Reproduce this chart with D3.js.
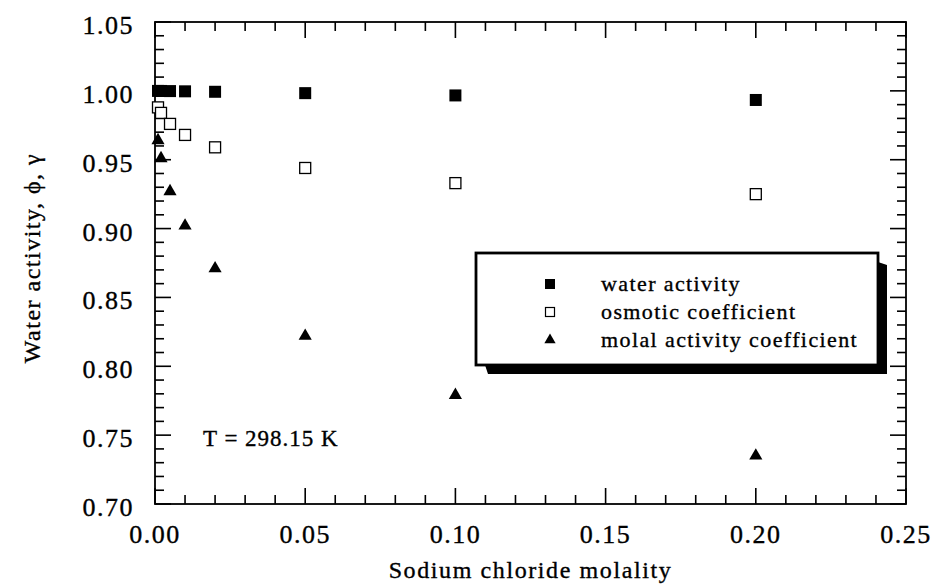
<!DOCTYPE html>
<html>
<head>
<meta charset="utf-8">
<script src="https://cdnjs.cloudflare.com/ajax/libs/d3/7.8.5/d3.min.js"></script>
<style>
  body { margin: 0; background: #fff; }
  svg { font-family: "Liberation Serif", "Times New Roman", serif; }
  text { fill: #000; stroke: #000; stroke-width: 0.35px; }
</style>
</head>
<body>
<svg id="graph" width="935" height="585"></svg>
<script>
// NaCl solutions at 298.15 K
var molality      = [0.001, 0.002, 0.005, 0.01, 0.02, 0.05, 0.1, 0.2];
var waterActivity = [0.99996, 0.99993, 0.99983, 0.99966, 0.99933, 0.99834, 0.99668, 0.99338];
var osmoticCoef   = [0.988, 0.984, 0.976, 0.968, 0.959, 0.944, 0.933, 0.925];
var activityCoef  = [0.964, 0.951, 0.927, 0.902, 0.871, 0.822, 0.779, 0.735];

var xTicks = [0, 0.05, 0.10, 0.15, 0.20, 0.25];
var yTicks = [0.70, 0.75, 0.80, 0.85, 0.90, 0.95, 1.00, 1.05];
var seriesNames = ["water activity", "osmotic coefficient", "molal activity coefficient"];

// note: "top" is reserved on window, so plot edges get a p prefix
var svg = d3.select("svg"),
    pLeft = 155, pRight = 906, pTop = 22, pBottom = 504;

var x = d3.scaleLinear().domain([0, 0.25]).range([pLeft, pRight]);
var y = d3.scaleLinear().domain([0.70, 1.05]).range([pBottom, pTop]);

var fmt = d3.format(".2f");

// inward ticks on all four sides, minor every 0.01 (drawn as thin rects)
var xMinor = d3.range(0, 26).map(function(i) { return i / 100; });
var yMinor = d3.range(70, 106).map(function(i) { return i / 100; });
function isMajor(v) { return Math.abs(v * 20 - Math.round(v * 20)) < 1e-6; }
function tlen(v) { return isMajor(v) ? 16 : 9; }

var tk = svg.append("g").attr("fill", "#000");
tk.selectAll("rect.xb").data(xMinor).enter().append("rect").attr("class", "xb")
  .attr("x", function(d) { return x(d) - 0.8; }).attr("width", 1.6)
  .attr("y", function(d) { return pBottom - tlen(d); }).attr("height", tlen);
tk.selectAll("rect.xt").data(xMinor).enter().append("rect").attr("class", "xt")
  .attr("x", function(d) { return x(d) - 0.8; }).attr("width", 1.6)
  .attr("y", pTop).attr("height", tlen);
tk.selectAll("rect.yl").data(yMinor).enter().append("rect").attr("class", "yl")
  .attr("y", function(d) { return y(d) - 0.8; }).attr("height", 1.6)
  .attr("x", pLeft).attr("width", tlen);
tk.selectAll("rect.yr").data(yMinor).enter().append("rect").attr("class", "yr")
  .attr("y", function(d) { return y(d) - 0.8; }).attr("height", 1.6)
  .attr("x", function(d) { return pRight - tlen(d); }).attr("width", tlen);

// frame
svg.append("rect")
  .attr("x", pLeft).attr("y", pTop)
  .attr("width", pRight - pLeft).attr("height", pBottom - pTop)
  .attr("fill", "none").attr("stroke", "#000").attr("stroke-width", 1.8);

// tick labels
svg.append("g").selectAll("text")
  .data(xTicks).enter().append("text")
  .attr("x", function(d) { return x(d); })
  .attr("y", 543)
  .attr("text-anchor", "middle")
  .style("font-size", "26px").style("letter-spacing", "1.5px")
  .text(function(d) { return fmt(d); });

svg.append("g").selectAll("text")
  .data(yTicks).enter().append("text")
  .attr("x", 134)
  .attr("y", function(d) { return y(d) + 12; })
  .attr("text-anchor", "end")
  .style("font-size", "26px").style("letter-spacing", "1.5px")
  .text(function(d) { return fmt(d); });

// axis titles
svg.append("text")
  .attr("x", (pLeft + pRight) / 2).attr("y", 578)
  .attr("text-anchor", "middle")
  .style("font-size", "24px").style("letter-spacing", "1.6px")
  .text("Sodium chloride molality");

svg.append("text")
  .attr("transform", "translate(40,258) rotate(-90)")
  .attr("text-anchor", "middle")
  .style("font-size", "24px").style("letter-spacing", "1.5px")
  .text("Water activity, \u03d5, \u03b3");

svg.append("text")
  .attr("x", 203).attr("y", 446)
  .style("font-size", "23px").style("letter-spacing", "1px")
  .text("T = 298.15 K");

// markers
var tri = d3.symbol().type(d3.symbolTriangle).size(75);

var g = svg.append("g");
g.selectAll("rect.wa")
  .data(molality).enter().append("rect")
  .attr("class", "wa")
  .attr("x", function(d) { return x(d) - 6; })
  .attr("y", function(d, i) { return y(waterActivity[i]) - 6; })
  .attr("width", 12).attr("height", 12)
  .attr("fill", "#000");

g.selectAll("rect.os")
  .data(molality).enter().append("rect")
  .attr("class", "os")
  .attr("x", function(d) { return x(d) - 5.5; })
  .attr("y", function(d, i) { return y(osmoticCoef[i]) - 5.5; })
  .attr("width", 11).attr("height", 11)
  .attr("fill", "#fff").attr("stroke", "#000").attr("stroke-width", 1.3);

g.selectAll("path.ac")
  .data(molality).enter().append("path")
  .attr("class", "ac")
  .attr("d", tri)
  .attr("transform", function(d, i) { return "translate(" + x(d) + "," + y(activityCoef[i]) + ")"; })
  .attr("fill", "#000");

// legend box with drop shadow
var lx = 476, ly = 253, lw = 402, lh = 112, sh = 9;
var legend = svg.append("g");
legend.append("path")
  .attr("d", "M" + (lx + lw) + "," + (ly + sh) +
             " L" + (lx + lw + sh) + "," + (ly + sh + 3) +
             " L" + (lx + lw + sh) + "," + (ly + lh + sh) +
             " L" + (lx + sh + 3) + "," + (ly + lh + sh) +
             " L" + (lx + sh) + "," + (ly + lh) +
             " L" + (lx + lw) + "," + (ly + lh) + " Z")
  .attr("fill", "#000");
legend.append("rect")
  .attr("x", lx).attr("y", ly).attr("width", lw).attr("height", lh)
  .attr("fill", "#fff").attr("stroke", "#000").attr("stroke-width", 2.8);

var rowY = [284, 312, 340];
legend.append("rect").attr("x", 545).attr("y", rowY[0] - 5).attr("width", 10).attr("height", 10).attr("fill", "#000");
legend.append("rect").attr("x", 545.5).attr("y", rowY[1] - 4.5).attr("width", 9).attr("height", 9)
  .attr("fill", "#fff").attr("stroke", "#000").attr("stroke-width", 1.2);
legend.append("path").attr("d", d3.symbol().type(d3.symbolTriangle).size(55))
  .attr("transform", "translate(550," + rowY[2] + ")").attr("fill", "#000");

legend.selectAll("text.lab")
  .data(seriesNames).enter().append("text")
  .attr("class", "lab")
  .attr("x", 601)
  .attr("y", function(d, i) { return rowY[i] + 7; })
  .style("font-size", "22px").style("letter-spacing", "1.4px")
  .text(function(d) { return d; });
</script>
</body>
</html>
